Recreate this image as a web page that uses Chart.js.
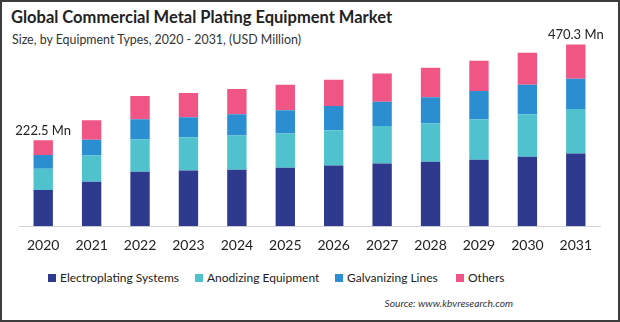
<!DOCTYPE html>
<html lang="en">
<head>
<meta charset="utf-8"/>
<title>Global Commercial Metal Plating Equipment Market</title>
<script src="https://cdn.jsdelivr.net/npm/chart.js"></script>
<style>
  body { margin: 0; background: #fff; font-family: Lato, Arial, sans-serif; }
  .wrap { position: relative; width: 620px; height: 322px; overflow: hidden; background: #fff; }
  .frame { position: absolute; left: 0; top: 0; width: 620px; height: 322px; box-sizing: border-box; border: 2px solid #3c3c3c; pointer-events: none; }
  #chart { position: absolute; left: 0; top: 0; }
  h1 { position: absolute; left: 11px; top: 7px; margin: 0; font-size: 16.5px; font-weight: 700; color: #222; white-space: nowrap; }
  .sub { position: absolute; left: 12px; top: 32px; font-size: 12.4px; color: #333; white-space: nowrap; }
  .legend { position: absolute; top: 270px; left: 0; font-size: 12px; color: #222; white-space: nowrap; }
  .legend span.item { position: absolute; top: 0; }
  .legend i { display: inline-block; width: 8px; height: 8px; margin-right: 4px; vertical-align: 0px; }
  .source { position: absolute; right: 107px; top: 297px; font-size: 10.2px; font-style: italic; color: #333; white-space: nowrap; }
</style>
</head>
<body>
<div class="wrap">
  <h1>Global Commercial Metal Plating Equipment Market</h1>
  <div class="sub">Size, by Equipment Types, 2020 - 2031, (USD Million)</div>
  <canvas id="chart" width="620" height="265"></canvas>
  <div class="legend" id="legend"></div>
  <div class="source">Source: www.kbvresearch.com</div>
  <div class="frame"></div>
</div>
<script>
  const years = ['2020', '2021', '2022', '2023', '2024', '2025', '2026', '2027', '2028', '2029', '2030', '2031'];
  const seriesNames = ['Electroplating Systems', 'Anodizing Equipment', 'Galvanizing Lines', 'Others'];
  const electroplating = [94, 115, 141, 144, 146, 151, 157, 162, 167, 172, 180, 188];
  const anodizing = [55, 68, 84, 86, 89, 89, 91, 97, 99, 105, 110, 115];
  const galvanizing = [35, 41, 52, 52, 55, 60, 63, 63, 68, 73, 76, 78.5];
  const others = [38.5, 50, 60, 63, 65, 66, 68, 73, 76, 78, 83, 88.8];
  const labelledYears = [0, 11];

  const colors = ['#2e3a8e', '#4fc2ce', '#2b8ed0', '#ef5585'];
  const series = [electroplating, anodizing, galvanizing, others];

  // legend (positions)
  const legendX = [48, 195, 335, 456];
  const legend = document.getElementById('legend');
  seriesNames.forEach((n, i) => {
    legend.innerHTML += `<span class="item" style="left:${legendX[i]}px"><i style="background:${colors[i]}"></i>${n}</span>`;
  });

  const totalLabels = {
    id: 'totalLabels',
    afterDatasetsDraw(chart) {
      const ctx = chart.ctx;
      const last = chart.getDatasetMeta(series.length - 1);
      ctx.save();
      ctx.font = '13px Lato, Arial, sans-serif';
      ctx.fillStyle = '#222';
      ctx.textAlign = 'center';
      ctx.textBaseline = 'alphabetic';
      labelledYears.forEach(i => {
        const total = series.reduce((s, arr) => s + arr[i], 0);
        const bar = last.data[i];
        ctx.fillText(total.toFixed(1) + ' Mn', bar.x, bar.y - 5);
      });
      ctx.restore();
    }
  };

  new Chart(document.getElementById('chart'), {
    type: 'bar',
    data: {
      labels: years,
      datasets: series.map((d, i) => ({
        label: seriesNames[i],
        data: d,
        backgroundColor: colors[i],
        barPercentage: 0.4,
        categoryPercentage: 1
      }))
    },
    options: {
      responsive: false,
      animation: false,
      layout: { padding: { left: 19, right: 20, top: 33, bottom: 0 } },
      plugins: { legend: { display: false }, tooltip: { enabled: false } },
      scales: {
        x: {
          stacked: true,
          grid: { display: false, drawTicks: false },
          border: { display: true, color: '#d4d4d4', width: 1 },
          ticks: { color: '#222', padding: 11, font: { size: 14, family: 'Lato, Arial, sans-serif' } }
        },
        y: { stacked: true, display: false, min: 0, max: 500 }
      }
    },
    plugins: [totalLabels]
  });
</script>
</body>
</html>
